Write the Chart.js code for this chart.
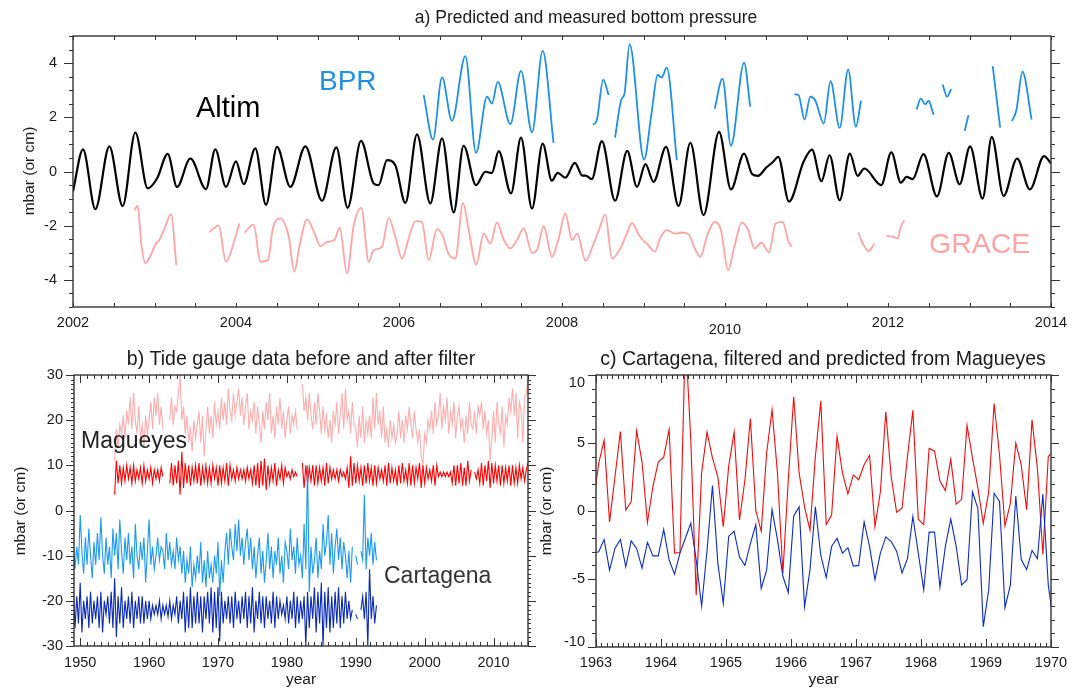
<!DOCTYPE html>
<html>
<head>
<meta charset="utf-8">
<script src="https://cdn.jsdelivr.net/npm/chart.js@4.4.1/dist/chart.umd.min.js"></script>
<style>
  body { margin: 0; background: #fff; }
  #wrap { position: relative; width: 1081px; height: 689px; overflow: hidden; }
  canvas { position: absolute; }
</style>
</head>
<body>
<div id="wrap">
  <canvas id="ca" width="1081" height="340" style="left:0;top:0"></canvas>
  <canvas id="cb" width="560" height="349" style="left:0;top:340px"></canvas>
  <canvas id="cc" width="541" height="349" style="left:540px;top:340px"></canvas>
</div>
<script>
// ---- panel a: predicted and measured bottom pressure ----
const altimT = [2002.0, 2002.123, 2002.274, 2002.446, 2002.609, 2002.765, 2002.916, 2003.031, 2003.162, 2003.276,
  2003.44, 2003.632, 2003.746, 2003.877, 2004.0, 2004.094, 2004.237, 2004.368, 2004.503, 2004.667,
  2004.851, 2005.055, 2005.231, 2005.37, 2005.534, 2005.689, 2005.75, 2005.853, 2005.955, 2006.078,
  2006.221, 2006.384, 2006.528, 2006.671, 2006.793, 2006.945, 2007.059, 2007.141, 2007.223, 2007.374,
  2007.497, 2007.632, 2007.763, 2007.876, 2007.946, 2008.041, 2008.158, 2008.249, 2008.29, 2008.365,
  2008.489, 2008.651, 2008.8, 2008.92, 2009.024, 2009.123, 2009.277, 2009.43, 2009.575, 2009.737,
  2009.927, 2010.073, 2010.234, 2010.334, 2010.404, 2010.508, 2010.591, 2010.653, 2010.785, 2010.964,
  2011.067, 2011.183, 2011.283, 2011.407, 2011.532, 2011.627, 2011.71, 2011.917, 2012.041, 2012.158,
  2012.228, 2012.303, 2012.435, 2012.601, 2012.746, 2012.879, 2013.007, 2013.161, 2013.273, 2013.418,
  2013.584, 2013.741, 2013.915, 2014.0];
const altimV = [-0.73, 0.82, -1.39, 0.93, -1.28, 1.44, -0.62, -0.26, 0.65, -0.57,
  0.48, -0.65, 0.82, -0.57, 0.37, -0.47, 0.85, -1.23, 0.91, -0.57,
  0.93, -1.08, 0.89, -1.34, 1.13, -0.44, -0.5, 0.42, 0.23, -1.16,
  1.37, -1.18, 1.22, -1.51, 0.95, -0.5, -0.01, -0.05, 0.75, -0.81,
  1.25, -1.37, 1.03, -0.34, -0.05, -0.23, 0.32, -0.15, -0.15, -0.28,
  1.12, -1.08, 0.76, -0.57, 0.27, -0.38, 0.91, -1.27, 1.06, -1.61,
  1.46, -0.66, 0.66, -0.1, -0.16, 0.15, 0.36, 0.54, -1.11, 0.36,
  0.81, -0.36, 0.6, -1.06, 0.66, -0.16, 0.11, -0.5, 0.71, -0.41,
  -0.2, -0.28, 0.64, -0.92, 0.69, -0.47, 0.93, -1.0, 1.28, -0.9,
  0.48, -0.66, 0.57, 0.3];

const bprT = [2006.303, 2006.417, 2006.528, 2006.65, 2006.814, 2006.945, 2007.08, 2007.141, 2007.211, 2007.366,
  2007.497, 2007.632, 2007.763, 2007.896, 2008.1,
  2008.381, 2008.427, 2008.506, 2008.572, 2008.61,
  2008.651, 2008.725, 2008.767, 2008.829, 2009.007, 2009.098, 2009.173, 2009.223, 2009.285, 2009.409, 2009.6,
  2009.874, 2009.969, 2010.073, 2010.234, 2010.309, 2010.6,
  2010.852, 2010.902, 2010.976, 2011.047, 2011.109, 2011.212, 2011.295, 2011.407, 2011.511, 2011.606, 2011.668, 2012.0,
  2012.352, 2012.402, 2012.456, 2012.497, 2012.559, 2012.6,
  2012.671, 2012.725, 2012.775, 2012.85,
  2012.941, 2012.987, 2013.1,
  2013.285, 2013.376, 2013.45,
  2013.521, 2013.575, 2013.65, 2013.762];
const bprV = [2.82, 1.18, 3.47, 1.87, 4.26, 0.69, 2.76, 2.51, 3.31, 1.75,
  3.71, 1.44, 4.45, 1.06, null,
  1.73, 1.89, 3.39, 2.82, null,
  1.25, 2.63, 2.88, 4.7, 0.44, 2.14, 3.56, 3.47, 3.83, 0.42, null,
  2.32, 3.43, 0.95, 4.02, 2.39, null,
  2.85, 2.82, 1.92, 2.76, 2.61, 1.77, 3.33, 1.61, 3.76, 1.65, 2.61, null,
  2.29, 2.69, 2.48, 2.61, 2.1, null,
  3.21, 2.76, 3.04, null,
  1.5, 2.08, null,
  3.89, 1.62, null,
  1.86, 2.26, 3.68, 1.92];

const graceT = [2002.753, 2002.793, 2002.838, 2002.888, 2002.949, 2003.018, 2003.059, 2003.133, 2003.202, 2003.268, 2003.45,
  2003.673, 2003.787, 2003.877, 2003.951, 2004.041, 2004.07,
  2004.106, 2004.217, 2004.299, 2004.393, 2004.45, 2004.544, 2004.646, 2004.716, 2004.781, 2004.871,
  2004.973, 2005.035, 2005.117, 2005.207, 2005.272, 2005.362, 2005.444, 2005.538, 2005.628, 2005.689,
  2005.791, 2005.873, 2005.955, 2006.037, 2006.119, 2006.2, 2006.282, 2006.364, 2006.466, 2006.536,
  2006.609, 2006.691, 2006.785, 2006.855, 2006.949, 2007.039, 2007.121, 2007.202, 2007.284, 2007.366,
  2007.448, 2007.53, 2007.632, 2007.693, 2007.775, 2007.877, 2007.959, 2008.041, 2008.123, 2008.187,
  2008.29, 2008.373, 2008.456, 2008.531, 2008.613, 2008.705, 2008.788, 2008.858, 2008.953, 2009.057,
  2009.14, 2009.202, 2009.285, 2009.389, 2009.472, 2009.554, 2009.629, 2009.699, 2009.782, 2009.874,
  2009.948, 2010.039, 2010.114, 2010.205, 2010.28, 2010.363, 2010.446, 2010.541, 2010.62, 2010.707,
  2010.777, 2010.819, 2011.2,
  2011.635, 2011.677, 2011.76, 2011.834, 2011.9,
  2011.979, 2012.062, 2012.116, 2012.158, 2012.199];
const graceV = [-1.43, -1.27, -2.66, -3.39, -3.12, -2.66, -2.53, -2.04, -1.57, -3.46, null,
  -2.23, -2.0, -3.33, -2.84, -1.92, null,
  -2.25, -1.96, -3.33, -3.27, -2.13, -1.73, -2.39, -3.7, -2.72, -1.77,
  -2.35, -2.76, -2.6, -2.53, -2.07, -3.76, -2.0, -1.34, -3.33, -2.9,
  -2.78, -1.71, -2.41, -3.21, -2.47, -1.83, -1.86, -3.27, -2.13, -2.37,
  -3.05, -3.21, -1.16, -2.16, -3.43, -2.29, -2.66, -1.88, -2.51, -2.84,
  -2.53, -2.1, -3.0, -2.9, -2.02, -3.15, -2.47, -1.55, -2.53, -2.29,
  -3.3, -2.78, -2.14, -1.59, -3.21, -2.9, -2.35, -1.9, -2.39, -2.72,
  -2.96, -2.47, -2.16, -2.29, -2.25, -2.32, -2.84, -3.15, -2.35, -1.86,
  -2.14, -3.64, -2.78, -1.89, -2.13, -2.84, -2.63, -2.99, -1.92, -1.86,
  -2.57, -2.78, null,
  -2.25, -2.57, -2.94, -2.66, null,
  -2.37, -2.41, -2.47, -2.04, -1.8];

const aXTicks = [2002, 2004, 2006, 2008, 2010, 2012, 2014];
const aYTicks = [-4, -2, 0, 2, 4];

// ---- panel b: tide gauge data, quarterly samples ----
const magStart = 1955.0;
const magRaw = [
  11, 18, 14, 19,  17, 21, 16, 22,  19, 25, 18, 26,  20, 17, 23, 16,  19, 14, 21, 17,
  20, 24, 18, 25,  21, 26, 19, 23,  18, null, null, null,  20, 25, 19, 23,  22, 26, 30, 20,
  23, 17, 21, 15,  18, 13, 20, 16,  19, 22, 15, 21,  12, 18, 23, 17,  21, 16, 24, 19,
  22, 18, 25, 20,  24, 19, 27, 22,  20, 26, 21, 24,  27, 21, 25, 19,  23, 26, 18, 22,
  20, 24, 17, 23,  19, 15, 22, 18,  24, 20, 26, 17,  21, 16, 23, 19,  25, 18, 22, 16,
  20, 23, 17, 21,  19, 22, 18, null,  null, 28, 22, 25,  20, 26, 21, 18,  24, 19, 26, 22,
  17, 23, 18, 21,  16, 20, 15, 22,  19, 24, 17, 21,  26, 18, 27, 20,  22, 17, 24, 19,
  18, 14, 21, 16,  23, 15, 20, 17,  21, 16, 25, 18,  26, 19, 22, 16,  23, 15, 18, 14,
  20, 16, 19, 15,  17, 22, 16, 20,  15, 21, 18, 23,  19, 16, 22, 18,  15, 18, 12, 10,
  17, 15, 20, 18,  22, 17, 24, 19,  21, 26, 18, 23,  20, 25, 17, 22,  19, 24, 16, 21,
  23, 18, 20, 15,  21, 17, 24, 19,  18, 22, 17, 23,  21, 24, 18, 22,  17, 20, 11, 16,
  22, 15, 24, 19,  17, 23, 14, 21,  19, 25, 22, 27,  21, 26, 16, 24,  22, 15, 25, 26,
  29];
const magFilt = [
  3.5, 11, 6, 10,  6, 9.5, 6.5, 10,  7, 9.5, 6, 10,  6.5, 9, 7, 9.5,  6, 10, 6.5, 9,
  7, 9.5, 6, 9,  7, 9, 6.5, 9.5,  7.5, null, null, null,  6, 10.5, 5.5, 10,  6, 11, 3.5, 13,
  5, 10.5, 6, 10,  5.5, 9.5, 6.5, 10,  6, 10.5, 5.5, 9.5,  6.5, 10, 6, 9.5,  6, 10, 7, 9.5,
  5.5, 10, 6, 9.5,  6.5, 10.5, 5.5, 10,  7, 9, 6.5, 9.5,  7, 9, 7, 9,  6.5, 9.5, 7, 9,
  6, 10, 5.5, 10.5,  5, 11, 5.5, 11.5,  4.5, 10, 6, 9.5,  6.5, 10.5, 5.5, 9,  7, 10, 6, 9.5,
  7.5, 8.5, 7, 9,  7.5, 8.5, 7.5, null,  null, 10.5, 5, 10,  6, 9.5, 6.5, 10,  5.5, 10, 6, 9.5,
  6.5, 9.5, 5.5, 10.5,  6, 9.5, 7, 9,  7, 9, 6.5, 9,  7.5, 8.5, 7, 9.5,  5, 12, 5.5, 10.5,
  6, 10, 6.5, 9.5,  5.5, 10, 6, 10.5,  6.5, 9.5, 5.5, 10,  6, 9.5, 7, 9,  6.5, 10, 5.5, 10.5,
  6, 9.5, 6.5, 9,  5.5, 10, 6, 10.5,  6.5, 9, 6, 10.5,  5.5, 10, 6, 9.5,  7, 10.5, 5, 10,
  6, 9.5, 7, 9,  6.5, 10, 5.5, 10,  7.5, 8.5, 7.5, 8.5,  7.5, 8.5, 7.5, 8.5,  6, 10, 5.5, 10,
  6, 10.5, 5.5, 9.5,  5.5, 11, 6.5, 9,  null, 8.5, 7, 9,  6, 10.5, 5.5, 10,  6.5, 11, 5, 10.5,
  6, 10, 6.5, 10,  5.5, 10, 6, 9.5,  6.5, 10, 5.5, 10,  6, 9.5, 6, 10,  7, 9.5, 6.5, 9,
  10.5];
const carStart = 1949.0;
const carRaw = [
  -7, -13, -8, -12,  -1, -9, -14, -6,  -12, -4, -10, -15,  -7, -12, -5, -11,  -1.5, -10, -14, -6,
  -12, -8, -15, -4,  -10, -5, -13, -2,  -9, -14, -6, -11,  -5, -12, -8, -15,  -3, -10, -13, -7,
  -11, -6, -16, -9,  -2, -12, -8, -13,  -10, -6, -11, -8,  -9, -13, -5, -11,  -7, -12, -9, -13,
  -6, -11, -8, -14,  -9, -16, -11, -14,  -8, -17, -12, -15,  -10, -14, -7, -16,  -11, -17, -9, -15,
  -12, -16, -10, -14,  -7, -19, -11, -16,  -9, -5, -12, -4,  -8, -11, -3, -9,  -2, -10, -6, -12,
  -7, -4, -11, -6,  -13, -8, -15, -10,  -6, -14, -9, -16,  -11, -5, -13, -8,  -15, -9, -12, -6,
  -14, -10, -16, -7,  -9, -13, -4, -11,  -8, -14, -6, -12,  -10, -15, -3, -13,  10, -18, -8, -14,
  -11, -6, -15, -9,  -13, -3, -10, -7,  -1, -12, -5, -14,  -8, -4, -11, -6,  -13, -7, -10, -15,
  -9, -16, -8, null,  -10, -12, null, -9,  -11, 3.5, -13, -6,  -10, -5, -12, -7,  -11];
const carFilt = [
  -18, -26, -19, -25,  -16, -27, -20, -24,  -19, -26, -18, -25,  -20, -24, -19, -26,  -18, -27, -20, -23,
  -19, -25, -18, -26,  -15, -28, -19, -25,  -17, -26, -20, -24,  -19, -25, -18, -26,  -20, -24, -19, -25,
  -19, -25, -20, -24,  -20, -24, -21, -23,  -21, -23, -20, -24,  -21, -23, -21, -23.5,  -20, -24, -21, -23,
  -19, -25, -20, -24,  -18, -27, -19, -26,  -17, -26, -19, -25,  -18, -25, -19, -27,  -19, -24, -18, -25,
  -17, -27, -18, -26,  -17, -29, -18, -25,  -20, -24, -19, -25,  -19, -26, -18, -24,  -20, -25, -19, -24,
  -18, -26, -19, -25,  -17, -27, -20, -24,  -18, -25, -19, -26,  -19, -24, -20, -25,  -18, -26, -19, -24,
  -20, -23, -21, -24,  -19, -25, -20, -24,  -18, -26, -19, -25,  -20, -24, -19, -30,  -18, -26, -19, -24,
  -17, -27, -18, -25,  -16, -30, -18, -26,  -17, -27, -19, -26,  -18, -25, -17, -26,  -19, -25, -18, -24,
  -20, -24, -22, null,  -23, -24, null, -22,  -19, -24, -18, -30,  -13, -24, -19, -25,  -21];
const bXTicks = [1950, 1960, 1970, 1980, 1990, 2000, 2010];
const bYTicks = [-30, -20, -10, 0, 10, 20, 30];

// ---- panel c: monthly values, first and last sit just outside the axis ----
const cStart = 1962.9583;
const cRed = [0.5,
  3.5, 5.2, -0.8, 2.5, 5.85, 0.07, 0.7, 5.9, 3.6, -0.86,
  1.8, 3.6, 3.96, 6.0, -3.1, -3.05, 13, 5.2, -6.2, 2.8,
  5.8, 3.9, 2.5, -1.15, 3.3, 5.8, -0.66, 2.3, 6.8, 0.07,
  -1.5, 4.25, 7.45, 2.8, -4.6, 2.3, 8.4, 2.8, 0.3, -1.4,
  4.0, 8.1, -1.0, -0.3, 5.5, 2.8, 1.25, 2.65, 2.3, 3.4,
  4.1, -1.15, 1.4, 7.3, 2.5, -0.1, 0.2, 4.0, 7.4, -0.6,
  -1.0, 4.6, 4.4, 2.2, 1.5, 3.8, 0.5, 0.86, 6.3, 3.9,
  1.7, -0.9, 1.4, 7.9, 4.1, -1.1, 0.56, 5.0, 3.4, 0.1,
  6.7, 3.1, -3.2, 4.0, 4.4];
const cBlue = [-3.1,
  -3.0, -2.1, -4.35, -2.75, -2.1, -4.1, -2.2, -2.75, -4.2, -2.3,
  -3.3, -3.3, -1.35, -3.6, -4.65, -3.1, -2.0, -0.9, -3.6, -7.0,
  -2.9, 1.87, -3.85, -6.8, -1.85, -1.5, -3.4, -4.0, -2.4, -1.0,
  -5.7, -4.35, 0.1, -2.1, -4.8, -6.0, -0.37, 0.3, -7.05, -4.35,
  0.3, -3.25, -4.9, -2.6, -2.0, -3.1, -2.7, -4.05, -4.0, -0.8,
  -2.6, -5.05, -3.1, -1.9, -2.25, -2.95, -4.55, -3.5, -0.4, -3.1,
  -5.8, -1.55, -1.55, -5.6, -2.6, -0.6, -2.6, -5.45, -5.05, 1.4,
  0.2, -8.5, -5.8, 1.3, 0.7, -7.1, -5.45, 1.1, -3.55, -4.3,
  -2.9, -3.5, 1.25, -5.45, -8.3];
const cXTicks = [1963, 1964, 1965, 1966, 1967, 1968, 1969, 1970];
const cYTicks = [-10, -5, 0, 5, 10];

// helpers
const FONT = '"Liberation Sans", Arial, Helvetica, sans-serif';
const pairs = (xs, ys) => xs.map((x, i) => ({ x: x, y: ys[i] }));
const series = (start, step, ys) => ys.map((y, i) => ({ x: start + i * step, y: y }));
function steps(min, max, step) {
  const out = [];
  for (let v = min; v <= max + 1e-9; v += step) out.push(v);
  return out;
}

// draws the box, inward x ticks, outward y ticks, labels and texts
const framePlugin = {
  id: 'frame',
  afterDraw(chart, args, o) {
    const { ctx, chartArea: a, scales: { x, y } } = chart;
    ctx.save();
    ctx.strokeStyle = '#333';
    ctx.lineWidth = 1.4;
    ctx.strokeRect(a.left, a.top, a.right - a.left, a.bottom - a.top);
    ctx.beginPath();
    const tx = (v, len) => {
      const px = Math.round(x.getPixelForValue(v)) + 0.5;
      ctx.moveTo(px, a.top); ctx.lineTo(px, a.top + len);
      ctx.moveTo(px, a.bottom); ctx.lineTo(px, a.bottom - len);
    };
    const ty = (v, len) => {
      const py = Math.round(y.getPixelForValue(v)) + 0.5;
      ctx.moveTo(a.left, py); ctx.lineTo(a.left - len, py);
      ctx.moveTo(a.right, py); ctx.lineTo(a.right + len, py);
    };
    o.xMinor.forEach(v => tx(v, o.len[0]));
    o.xTicks.forEach(v => tx(v, o.len[1]));
    o.yMinor.forEach(v => ty(v, o.len[2]));
    o.yTicks.forEach(v => ty(v, o.len[3]));
    ctx.lineWidth = 1;
    ctx.stroke();

    ctx.fillStyle = '#1a1a1a';
    ctx.font = '14.5px ' + FONT;
    ctx.textBaseline = 'middle';
    ctx.textAlign = 'center';
    o.xTicks.forEach(v => {
      const dy = (o.xDy && o.xDy[v]) || 0;
      ctx.fillText(String(v), x.getPixelForValue(v), o.xLabelY + dy);
    });
    ctx.textAlign = 'right';
    o.yTicks.forEach(v => {
      let py = y.getPixelForValue(v);
      py = Math.min(Math.max(py, a.top + o.yClamp[0]), a.bottom - o.yClamp[1]);
      ctx.fillText(String(v), o.yLabelRight, py);
    });

    ctx.textBaseline = 'alphabetic';
    ctx.textAlign = 'center';
    ctx.font = o.titleSize + 'px ' + FONT;
    ctx.fillText(o.title, o.titlePos[0], o.titlePos[1]);
    ctx.font = '15.5px ' + FONT;
    if (o.xTitle) ctx.fillText(o.xTitle, (a.left + a.right) / 2, o.xTitleY);
    ctx.save();
    ctx.translate(o.yTitlePos[0], o.yTitlePos[1]);
    ctx.rotate(-Math.PI / 2);
    ctx.textBaseline = 'middle';
    ctx.fillText('mbar (or cm)', 0, 0);
    ctx.restore();

    ctx.textAlign = 'left';
    (o.notes || []).forEach(n => {
      ctx.font = n.size + 'px ' + FONT;
      ctx.fillStyle = n.color;
      ctx.fillText(n.text, n.x, n.y);
    });
    ctx.restore();
  }
};

function lineSet(data, color, width, extra) {
  return Object.assign({
    data: data, borderColor: color, borderWidth: width, pointRadius: 0,
    fill: false, tension: 0, spanGaps: false, clip: 0
  }, extra || {});
}

function baseOptions(pad, xr, yr, frame) {
  return {
    responsive: false, animation: false, devicePixelRatio: 1,
    layout: { padding: pad },
    scales: {
      x: { type: 'linear', min: xr[0], max: xr[1], display: false },
      y: { type: 'linear', min: yr[0], max: yr[1], display: false }
    },
    plugins: { legend: { display: false }, tooltip: { enabled: false }, frame: frame }
  };
}

// panel a
new Chart(document.getElementById('ca'), {
  type: 'line',
  data: {
    datasets: [
      lineSet(pairs(altimT, altimV), '#000000', 2.2, { cubicInterpolationMode: 'monotone', order: 1 }),
      lineSet(pairs(bprT, bprV), '#1e90e6', 1.8, { cubicInterpolationMode: 'monotone', order: 2 }),
      lineSet(pairs(graceT, graceV), '#ffa3a3', 1.8, { cubicInterpolationMode: 'monotone', order: 3 })
    ]
  },
  options: baseOptions({ left: 73, top: 36, right: 30, bottom: 33 }, [2002, 2014], [-5, 5], {
    xTicks: aXTicks, yTicks: aYTicks,
    xMinor: steps(2002, 2014, 0.5), yMinor: steps(-5, 5, 0.5),
    len: [4, 4, 4, 9],
    xLabelY: 323, xDy: { 2010: 7 }, yLabelRight: 57, yClamp: [0, 0],
    title: 'a) Predicted and measured bottom pressure', titleSize: 17.5, titlePos: [586, 23],
    yTitlePos: [30, 171],
    notes: [
      { text: 'Altim', x: 196, y: 117, size: 29, color: '#000' },
      { text: 'BPR', x: 319, y: 90, size: 28, color: '#1e90e6' },
      { text: 'GRACE', x: 929, y: 253, size: 28.5, color: '#ffa3a3' }
    ]
  }),
  plugins: [framePlugin]
});

// panel b
new Chart(document.getElementById('cb'), {
  type: 'line',
  data: {
    datasets: [
      lineSet(series(magStart, 0.25, magRaw), '#ffadad', 1.1, { order: 4 }),
      lineSet(series(magStart, 0.25, magFilt), '#ff0000', 1.1, { order: 3 }),
      lineSet(series(carStart, 0.25, carRaw), '#1c9af2', 1.1, { order: 2 }),
      lineSet(series(carStart, 0.25, carFilt), '#0a2ab4', 1.1, { order: 1 })
    ]
  },
  options: baseOptions({ left: 74, top: 35, right: 32, bottom: 43 }, [1949.1, 2015], [-30, 30], {
    xTicks: bXTicks, yTicks: bYTicks,
    xMinor: steps(1950, 2015, 1), yMinor: steps(-30, 30, 1),
    len: [4, 8, 3, 8],
    xLabelY: 322.5, yLabelRight: 63, yClamp: [0, 0],
    title: 'b) Tide gauge data before and after filter', titleSize: 19.5, titlePos: [301, 25],
    xTitle: 'year', xTitleY: 344,
    yTitlePos: [21, 171],
    notes: [
      { text: 'Magueyes', x: 81, y: 108, size: 23, color: '#222' },
      { text: 'Cartagena', x: 384, y: 243, size: 23, color: '#333' }
    ]
  }),
  plugins: [framePlugin]
});

// panel c
new Chart(document.getElementById('cc'), {
  type: 'line',
  data: {
    datasets: [
      lineSet(series(cStart, 1 / 12, cRed), '#f00c0c', 1.1, { order: 2 }),
      lineSet(series(cStart, 1 / 12, cBlue), '#0c2cc4', 1.1, { order: 1 })
    ]
  },
  options: baseOptions({ left: 56, top: 35, right: 30, bottom: 42 }, [1963, 1970], [-10, 10], {
    xTicks: cXTicks, yTicks: cYTicks,
    xMinor: steps(1963, 1970, 1 / 12), yMinor: steps(-10, 10, 1),
    len: [4, 8, 4, 8],
    xLabelY: 322.5, yLabelRight: 45, yClamp: [8, 5],
    title: 'c) Cartagena, filtered and predicted from Magueyes', titleSize: 19.5, titlePos: [283, 25],
    xTitle: 'year', xTitleY: 344,
    yTitlePos: [7, 171]
  }),
  plugins: [framePlugin]
});
</script>
</body>
</html>
